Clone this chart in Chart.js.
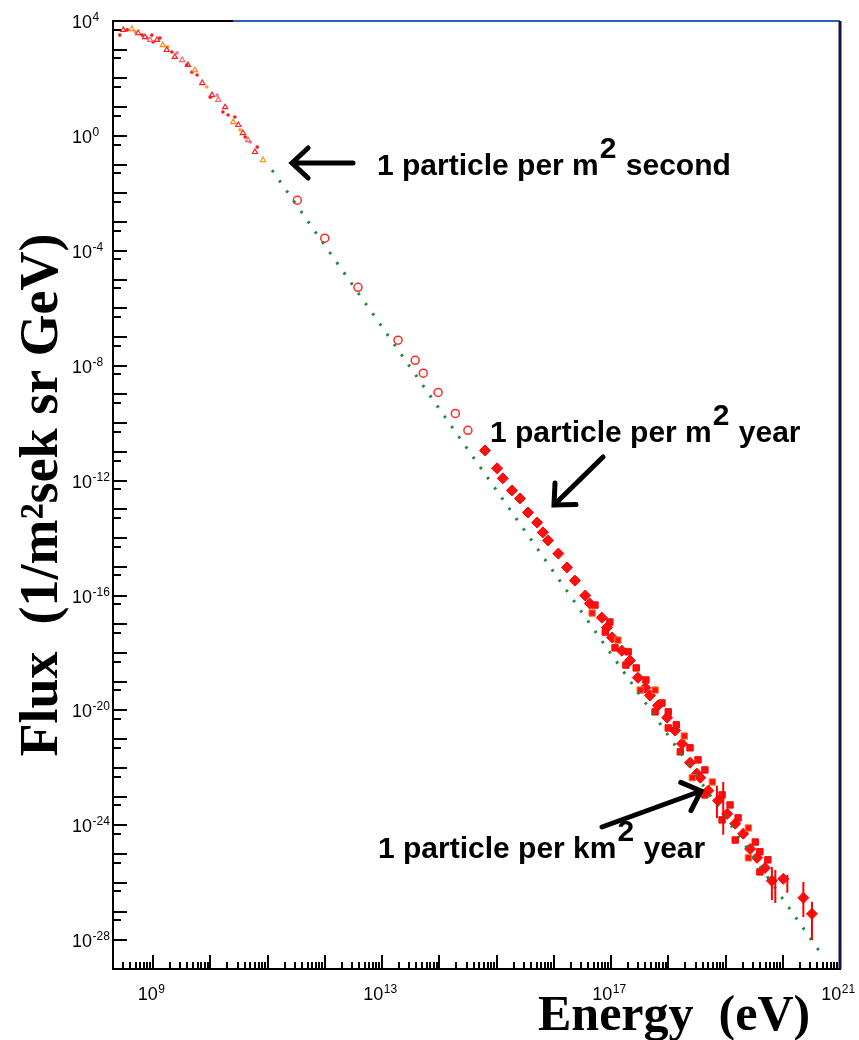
<!DOCTYPE html>
<html>
<head>
<meta charset="utf-8">
<script src="https://cdn.jsdelivr.net/npm/chart.js@4.4.0/dist/chart.umd.min.js"></script>
<style>
  body { margin: 0; background: #fff; }
  canvas { display: block; }
</style>
</head>
<body>
<canvas id="fluxChart" width="859" height="1040"></canvas>
<script>
// values, as log10(E / eV) and log10(flux)
var lowE = [8.48, 8.63, 8.74, 8.86, 8.95, 9.07, 9.17, 9.24, 9.38, 9.51, 9.61, 9.73, 9.86, 10.03, 10.14, 10.26, 10.40, 10.49, 10.57, 10.66, 10.78, 10.92];
var lowF = [3.69, 3.72, 3.58, 3.44, 3.34, 3.34, 3.16, 2.99, 2.75, 2.64, 2.47, 2.29, 1.84, 1.42, 1.25, 1.00, 0.48, 0.38, 0.10, -0.15, -0.56, -0.84];

// second low energy experiment (small dots)
var low2E = [8.42, 8.55, 8.69, 8.81, 8.90, 8.98, 9.00, 9.12, 9.26, 9.33, 9.42, 9.59, 9.68, 9.77, 9.94, 10.00, 10.12, 10.22, 10.31, 10.43, 10.52, 10.61, 10.70, 10.82];
var low2F = [3.51, 3.69, 3.62, 3.51, 3.41, 3.51, 3.27, 3.41, 3.10, 2.92, 2.89, 2.47, 2.22, 2.12, 1.70, 1.35, 1.42, 0.83, 0.73, 0.66, 0.21, -0.04, -0.21, -0.39];

var midE = [11.52, 12.00, 12.58, 13.28, 13.58, 13.72, 13.98, 14.28, 14.50];
var midF = [-2.24, -3.56, -5.27, -7.11, -7.81, -8.26, -8.93, -9.66, -10.25];

var highE = [14.80, 15.01, 15.11, 15.27, 15.41, 15.55, 15.71, 15.81, 15.90, 16.08, 16.23, 16.37, 16.55, 16.63, 16.84, 16.93, 17.02, 17.19, 17.33, 17.47, 17.60, 17.68, 17.82, 17.98, 18.12, 18.24, 18.38, 18.50, 18.56, 18.70, 18.87, 19.03, 19.17, 19.31, 19.43, 19.55, 19.69, 19.81, 20.01, 20.36, 20.51];
var highF = [-10.95, -11.57, -11.92, -12.34, -12.62, -13.11, -13.46, -13.80, -14.08, -14.54, -15.02, -15.48, -16.00, -16.28, -16.77, -17.11, -17.46, -17.92, -18.26, -18.86, -19.21, -19.48, -19.83, -20.25, -20.70, -21.16, -21.82, -22.20, -22.34, -22.79, -23.14, -23.60, -23.94, -24.29, -24.82, -25.13, -25.48, -25.93, -25.86, -26.52, -27.08];

// the thick band of air shower points, both edges
var bandE = [16.72, 16.98, 17.12, 17.30, 17.44, 17.61, 17.77, 17.89, 18.00, 18.14, 18.28, 18.38, 18.52, 18.64, 18.77, 18.94, 19.08, 19.22, 19.40, 19.52, 19.60, 19.74,
             16.67, 16.90, 17.07, 17.26, 17.51, 17.77, 18.00, 18.21, 18.42, 18.64, 18.94, 19.17, 19.40, 19.60];
var bandF = [-16.33, -16.92, -17.55, -17.96, -18.52, -18.94, -19.29, -19.74, -20.05, -20.50, -20.89, -21.30, -21.72, -22.07, -22.49, -22.94, -23.29, -23.74, -24.09, -24.58, -24.92, -25.20,
             -16.61, -17.27, -17.82, -18.42, -19.29, -20.05, -20.61, -21.44, -22.34, -22.94, -23.81, -24.51, -25.13, -25.62];

// error bars at the high end
var errE  = [18.85, 18.96, 19.81, 19.87, 20.08, 20.36, 20.51];
var errHi = [-22.62, -22.49, -25.45, -25.55, -25.73, -25.97, -26.66];
var errLo = [-23.74, -24.33, -26.60, -26.70, -26.35, -27.19, -27.99];

// dotted power-law line, end points
var fitE = [11.08, 20.71];
var fitF = [-1.19, -28.58];

// axes
var xMinExp = 8.301, xMaxExp = 21;
var yMinExp = -29, yMaxExp = 4;
var xLabelExp = [9, 13, 17, 21];
var yLabelExp = [4, 0, -4, -8, -12, -16, -20, -24, -28];

function pts(ex, ey) {
  return ex.map(function (e, i) { return { x: Math.pow(10, e), y: Math.pow(10, ey[i]) }; });
}

var SANS = '"Liberation Sans", Arial, sans-serif';

// "10" with a raised exponent
function powText(ctx, e, x, base, align) {
  ctx.font = '18px ' + SANS;
  var w1 = ctx.measureText('10').width;
  ctx.font = '12px ' + SANS;
  var w2 = ctx.measureText(String(e)).width;
  var x0 = align === 'left' ? x : x - (w1 + w2) / 2;
  ctx.font = '18px ' + SANS;
  ctx.fillText('10', x0, base);
  ctx.font = '12px ' + SANS;
  ctx.fillText(String(e), x0 + w1 + 0.5, base - 7);
}

// inward tick marks, labels and frame
var axesPlugin = {
  id: 'axesPlugin',
  beforeDatasetsDraw: function (chart) {
    var ctx = chart.ctx, sx = chart.scales.x, sy = chart.scales.y, a = chart.chartArea;
    ctx.save();
    ctx.strokeStyle = '#000';
    ctx.lineWidth = 2;
    ctx.beginPath();
    for (var e = 8; e <= 21; e++) {
      for (var m = 1; m <= 9; m++) {
        var v = m * Math.pow(10, e);
        if (v < sx.min * 1.001 || v > sx.max) continue;
        var px = Math.round(sx.getPixelForValue(v));
        var len = m === 1 ? 14 : 7;
        ctx.moveTo(px, a.bottom);
        ctx.lineTo(px, a.bottom - len);
      }
    }
    for (var k = yMinExp + 1; k <= yMaxExp; k++) {
      var py = Math.round(sy.getPixelForValue(Math.pow(10, k)));
      ctx.moveTo(a.left, py);
      ctx.lineTo(a.left + 14, py);
      if (k < yMaxExp) {
        var pm = Math.round(sy.getPixelForValue(5 * Math.pow(10, k)));
        ctx.moveTo(a.left, pm);
        ctx.lineTo(a.left + 8, pm);
      }
    }
    ctx.stroke();

    // top and right frame
    ctx.beginPath();
    ctx.moveTo(a.left, a.top); ctx.lineTo(233, a.top);
    ctx.stroke();
    ctx.strokeStyle = '#2b62b8';
    ctx.beginPath();
    ctx.moveTo(233, a.top); ctx.lineTo(a.right, a.top);
    ctx.stroke();
    ctx.strokeStyle = '#14144a';
    ctx.lineWidth = 3;
    ctx.beginPath();
    ctx.moveTo(a.right, a.top); ctx.lineTo(a.right, a.bottom);
    ctx.stroke();

    // tick labels
    ctx.fillStyle = '#000';
    ctx.textBaseline = 'alphabetic';
    xLabelExp.forEach(function (e) {
      powText(ctx, e, sx.getPixelForValue(Math.pow(10, e)) - 2, a.bottom + 31, 'center');
    });
    yLabelExp.forEach(function (e) {
      powText(ctx, e, 72, sy.getPixelForValue(Math.pow(10, e)) + 7, 'left');
    });
    ctx.restore();
  }
};

var errorBars = {
  id: 'errorBars',
  afterDatasetsDraw: function (chart) {
    var ctx = chart.ctx, sx = chart.scales.x, sy = chart.scales.y;
    ctx.save();
    ctx.strokeStyle = '#ff0000';
    ctx.lineWidth = 2;
    ctx.beginPath();
    for (var i = 0; i < errE.length; i++) {
      var px = sx.getPixelForValue(Math.pow(10, errE[i]));
      ctx.moveTo(px, sy.getPixelForValue(Math.pow(10, errHi[i])));
      ctx.lineTo(px, sy.getPixelForValue(Math.pow(10, errLo[i])));
    }
    ctx.stroke();
    ctx.restore();
  }
};

function arrow(ctx, x1, y1, x2, y2) {
  var ang = Math.atan2(y2 - y1, x2 - x1), h = 22;
  ctx.beginPath();
  ctx.moveTo(x1, y1); ctx.lineTo(x2, y2);
  ctx.moveTo(x2 - h * Math.cos(ang - 0.75), y2 - h * Math.sin(ang - 0.75));
  ctx.lineTo(x2, y2);
  ctx.lineTo(x2 - h * Math.cos(ang + 0.75), y2 - h * Math.sin(ang + 0.75));
  ctx.stroke();
}
function note(ctx, a, b, x, y) {
  ctx.fillText(a, x, y);
  var w = ctx.measureText(a).width;
  ctx.fillText('2', x + w + 1, y - 17);
  var w2 = ctx.measureText('2').width;
  ctx.fillText(b, x + w + w2 + 2, y);
}

var notes = {
  id: 'notes',
  afterDraw: function (chart) {
    var ctx = chart.ctx;
    ctx.save();
    ctx.fillStyle = '#000';
    ctx.strokeStyle = '#000';
    ctx.lineWidth = 5;
    ctx.lineCap = 'round';
    arrow(ctx, 353, 163, 292, 163);
    arrow(ctx, 603, 457, 554, 505);
    arrow(ctx, 602, 827, 701, 791);

    ctx.font = 'bold 30px ' + SANS;
    ctx.textBaseline = 'alphabetic';
    note(ctx, '1 particle per m', ' second', 377, 175);
    note(ctx, '1 particle per m', ' year', 490, 442);
    note(ctx, '1 particle per km', ' year', 378, 858);

    ctx.font = 'bold 50px "Liberation Serif", "Times New Roman", serif';
    ctx.fillText('Energy  (eV)', 538, 1030);

    ctx.translate(57, 495);
    ctx.rotate(-Math.PI / 2);
    ctx.textAlign = 'center';
    ctx.font = 'bold 54px "Liberation Serif", "Times New Roman", serif';
    ctx.fillText('Flux  (1/m\u00b2sek sr GeV)', 0, 0);
    ctx.restore();
  }
};

new Chart(document.getElementById('fluxChart'), {
  type: 'scatter',
  data: {
    datasets: [
      {
        label: 'fit',
        type: 'line',
        data: pts(fitE, fitF),
        borderColor: '#1f8a3a',
        borderWidth: 3,
        borderDash: [2.5, 10],
        pointRadius: 0,
        fill: false
      },
      {
        label: 'low',
        data: pts(lowE, lowF),
        pointStyle: 'triangle',
        pointRadius: 3,
        borderWidth: 1.2,
        borderColor: ['#ff2020', '#ff8a20', '#ff2020', '#ff2020', '#ff6060'],
        backgroundColor: 'rgba(0,0,0,0)'
      },
      {
        label: 'low2',
        data: pts(low2E, low2F),
        pointStyle: 'circle',
        pointRadius: 1.8,
        borderWidth: 0,
        backgroundColor: ['#ff1a1a', '#ff1a1a', '#ff9a30', '#ff1a1a', '#f070c0', '#ff1a1a']
      },
      {
        label: 'mid',
        data: pts(midE, midF),
        pointStyle: 'circle',
        pointRadius: 4,
        borderWidth: 1.5,
        borderColor: '#ff2a2a',
        backgroundColor: 'rgba(0,0,0,0)'
      },
      {
        label: 'band',
        data: pts(bandE, bandF),
        pointStyle: 'rect',
        pointRadius: 4.5,
        borderWidth: 1,
        borderColor: ['#ff0000', '#ff0000', '#ff7a2a', '#ff0000'],
        backgroundColor: '#ff1010'
      },
      {
        label: 'high',
        data: pts(highE, highF),
        pointStyle: 'rectRot',
        pointRadius: 5.5,
        borderWidth: 1,
        borderColor: '#ff0000',
        backgroundColor: '#ff1010'
      }
    ]
  },
  options: {
    responsive: false,
    animation: false,
    devicePixelRatio: 1,
    layout: { padding: { top: 21, right: 19, left: 0, bottom: 0 } },
    plugins: { legend: { display: false }, tooltip: { enabled: false } },
    scales: {
      x: {
        type: 'logarithmic',
        position: 'bottom',
        min: Math.pow(10, xMinExp),
        max: Math.pow(10, xMaxExp),
        grid: { display: false, drawTicks: false },
        border: { display: true, color: '#000', width: 2 },
        ticks: { display: false },
        afterFit: function (s) { s.height = 71; }
      },
      y: {
        type: 'logarithmic',
        min: Math.pow(10, yMinExp),
        max: Math.pow(10, yMaxExp),
        grid: { display: false, drawTicks: false },
        border: { display: true, color: '#000', width: 2 },
        ticks: { display: false },
        afterFit: function (s) { s.width = 113; }
      }
    }
  },
  plugins: [axesPlugin, errorBars, notes]
});
</script>
</body>
</html>
